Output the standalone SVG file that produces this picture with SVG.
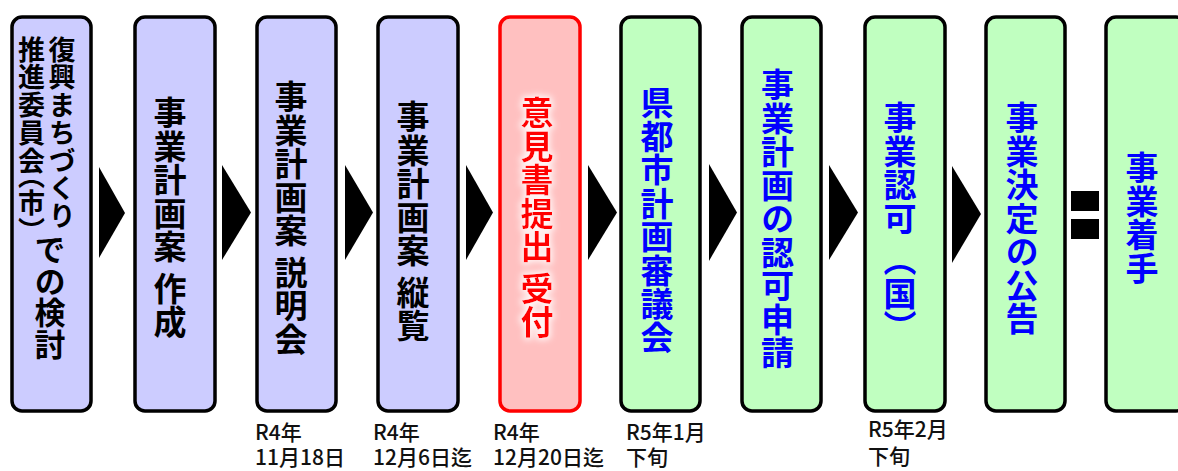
<svg xmlns="http://www.w3.org/2000/svg" width="1178" height="471" viewBox="0 0 1178 471">
<style>
.box{stroke:#000;stroke-width:3.5}
.blue{fill:#CCCCFF}
.green{fill:#C0FFC0}
.red{fill:#FFC0C0;stroke:#FF0000}
.vt{font-family:"Noto Sans CJK JP","Noto Sans CJK SC",sans-serif;font-weight:bold;writing-mode:vertical-rl;font-size:33px;letter-spacing:0.5px}
.k{fill:#000}
.b{fill:#0000FF}
.r{fill:#FF0000}
.lbl{font-family:"Noto Sans CJK JP","Noto Sans CJK SC",sans-serif;font-weight:500;font-size:21px;fill:#111}
.arr{fill:#000}
</style>
<defs>
<filter id="glow" x="-40%" y="-10%" width="180%" height="120%">
<feMorphology in="SourceAlpha" operator="dilate" radius="2" result="d"/>
<feGaussianBlur in="d" stdDeviation="3" result="bl"/>
<feFlood flood-color="#ffffff" flood-opacity="0.85"/>
<feComposite in2="bl" operator="in" result="g"/>
<feMerge><feMergeNode in="g"/><feMergeNode in="SourceGraphic"/></feMerge>
</filter>
</defs>

<g id="connectors">
<polygon class="arr" points="99,167 125,213 99,258"/>
<polygon class="arr" points="222,165 251,212.5 222,260"/>
<polygon class="arr" points="345,165 373,212.5 345,260"/>
<polygon class="arr" points="466,165 493,212.5 466,260"/>
<polygon class="arr" points="588,165 617,212.5 588,260"/>
<polygon class="arr" points="709,164 737,212.5 709,261"/>
<polygon class="arr" points="829,165 858,212.5 829,260"/>
<polygon class="arr" points="952,166 981,214 952,263"/>
<rect class="arr" x="1071" y="191" width="28" height="20"/>
<rect class="arr" x="1071" y="219" width="28" height="20"/>
</g>

<g id="n1">
<rect class="box blue" x="12" y="17" width="79" height="394" rx="10"/>
<text class="vt k" x="62" y="36" style="font-size:27px;letter-spacing:0.7px">復興まちづくり</text>
<text class="vt k" x="31.5" y="36" style="font-size:27px;letter-spacing:0.7px">推進委員会<tspan dy="-13">（</tspan>市）</text>
<text class="vt k" x="50" y="234" style="font-size:31px">での検討</text>
</g>

<g id="n2">
<rect class="box blue" x="135" y="17" width="80" height="394" rx="10"/>
<text class="vt k" x="170" y="96">事業計画案 作成</text>
</g>

<g id="n3">
<rect class="box blue" x="257" y="17" width="79" height="394" rx="10"/>
<text class="vt k" x="291" y="80">事業計画案 説明会</text>
<text class="lbl" x="255" y="440">R4年<tspan x="255" dy="25">11月18日</tspan></text>
</g>

<g id="n4">
<rect class="box blue" x="378" y="17" width="80" height="394" rx="10"/>
<text class="vt k" x="413" y="100">事業計画案 縦覧</text>
<text class="lbl" x="373" y="440">R4年<tspan x="373" dy="25">12月6日迄</tspan></text>
</g>

<g id="n5">
<rect class="box red" x="500" y="17" width="80" height="394" rx="10"/>
<text class="vt r" x="537" y="96" filter="url(#glow)">意見書提出 受付</text>
<text class="lbl" x="493" y="440">R4年<tspan x="493" dy="25">12月20日迄</tspan></text>
</g>

<g id="n6">
<rect class="box green" x="621" y="17" width="79" height="394" rx="10"/>
<text class="vt b" x="657" y="86">県都市計画審議会</text>
<text class="lbl" x="626" y="440">R5年1月<tspan x="626" dy="25">下旬</tspan></text>
</g>

<g id="n7">
<rect class="box green" x="742" y="17" width="79" height="394" rx="10"/>
<text class="vt b" x="777.5" y="68">事業計画の認可申請</text>
</g>

<g id="n8">
<rect class="box green" x="865" y="17" width="80" height="394" rx="10"/>
<text class="vt b" x="900" y="101">事業認可 （国）</text>
<text class="lbl" x="868" y="437">R5年2月<tspan x="868" dy="27">下旬</tspan></text>
</g>

<g id="n9">
<rect class="box green" x="986" y="17" width="79" height="394" rx="10"/>
<text class="vt b" x="1022" y="101">事業決定の公告</text>
</g>

<g id="n10">
<rect class="box green" x="1106" y="17" width="80" height="394" rx="10"/>
<text class="vt b" x="1142" y="151">事業着手</text>
</g>
</svg>
